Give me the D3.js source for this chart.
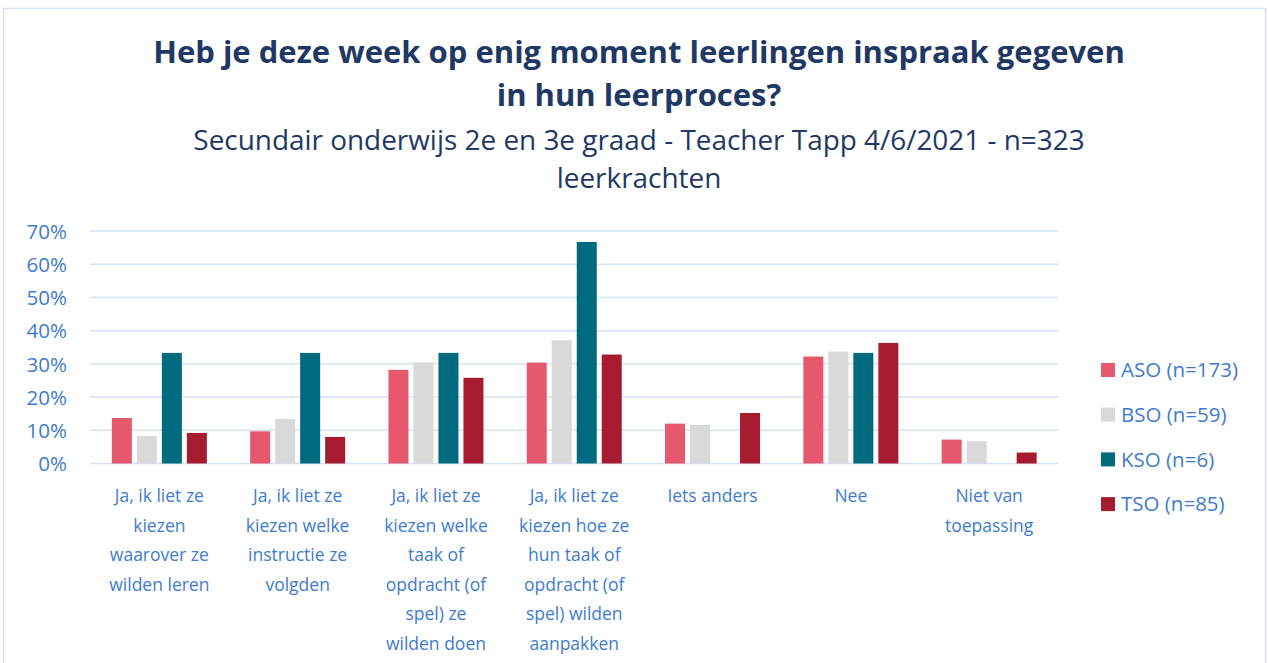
<!DOCTYPE html>
<html><head><meta charset="utf-8">
<script src="https://cdn.jsdelivr.net/npm/d3@7"></script>
<style>body{margin:0;background:#fff;font-family:"Open Sans",sans-serif}</style>
</head><body><svg id="c" width="1268" height="663"></svg>
<script>
const categories = [
  ["Ja, ik liet ze","kiezen","waarover ze","wilden leren"],
  ["Ja, ik liet ze","kiezen welke","instructie ze","volgden"],
  ["Ja, ik liet ze","kiezen welke","taak of","opdracht (of","spel) ze","wilden doen"],
  ["Ja, ik liet ze","kiezen hoe ze","hun taak of","opdracht (of","spel) wilden","aanpakken"],
  ["Iets anders"],
  ["Nee"],
  ["Niet van","toepassing"]
];
const seriesNames = ["ASO (n=173)","BSO (n=59)","KSO (n=6)","TSO (n=85)"];
const ASO = [13.7, 9.7, 28.2, 30.4, 12.0, 32.2, 7.2];
const BSO = [8.3, 13.4, 30.4, 37.1, 11.6, 33.7, 6.7];
const KSO = [33.3, 33.3, 33.3, 66.7, 0, 33.3, 0];
const TSO = [9.2, 8.0, 25.8, 32.8, 15.2, 36.3, 3.3];
const yTicks = [0,10,20,30,40,50,60,70];
const colors = ["#E5586E","#D9D9D9","#006A7E","#A51C30"];
const titleLines = ["Heb je deze week op enig moment leerlingen inspraak gegeven","in hun leerproces?"];
const subtitleLines = ["Secundair onderwijs 2e en 3e graad - Teacher Tapp 4/6/2021 - n=323","leerkrachten"];

(function(){
const svg = d3.select("#c");
const series = [ASO,BSO,KSO,TSO];
const blue = "#3F7BD0";

svg.append("rect").attr("x",3.5).attr("y",8.5).attr("width",1262).attr("height",670)
  .attr("fill","none").attr("stroke","#D6E1F2").attr("stroke-width",1.5);

function fitText(sel, target){
  const w = sel.node().getComputedTextLength();
  const fs = parseFloat(sel.attr("font-size"));
  sel.attr("font-size", fs*target/w);
}
const cx = 639;
const t1 = svg.append("text").attr("x",cx).attr("y",63).attr("text-anchor","middle")
  .attr("font-size",30).attr("font-weight","bold").attr("fill","#1F3864").text(titleLines[0]);
fitText(t1, 972);
svg.append("text").attr("x",cx).attr("y",106).attr("text-anchor","middle")
  .attr("font-size",t1.attr("font-size")).attr("font-weight","bold").attr("fill","#1F3864").text(titleLines[1]);
const s1 = svg.append("text").attr("x",cx).attr("y",150).attr("text-anchor","middle")
  .attr("font-size",24).attr("fill","#1F3864").text(subtitleLines[0]);
fitText(s1, 892);
svg.append("text").attr("x",cx).attr("y",188).attr("text-anchor","middle")
  .attr("font-size",s1.attr("font-size")).attr("fill","#1F3864").text(subtitleLines[1]);

const pl = 90, pr = 1058.5, pt = 231, pb = 463.5;
const y = d3.scaleLinear().domain([0,70]).range([pb, pt]);
const x0 = d3.scaleBand().domain(d3.range(categories.length)).range([pl,pr]).paddingInner(0.313).paddingOuter(0.158);
const x1 = d3.scaleBand().domain(d3.range(series.length)).range([0,x0.bandwidth()]).paddingInner(0.2).paddingOuter(0);

svg.append("g").selectAll("line").data(yTicks).join("line")
  .attr("x1",pl).attr("x2",pr).attr("y1",d=>y(d)).attr("y2",d=>y(d))
  .attr("stroke","#D6E1F2").attr("stroke-width",1.5);

const yAxis = svg.append("g").attr("transform",`translate(67,0)`)
  .call(d3.axisLeft(y).tickValues(yTicks).tickFormat(d=>d+"%").tickSize(0).tickPadding(0));
yAxis.select(".domain").remove();
yAxis.selectAll("text").attr("font-size",20.5).attr("fill",blue).attr("font-family","Open Sans, sans-serif").attr("dy","0.35em");

const g = svg.append("g");
categories.forEach((c,i)=>{
  series.forEach((s,j)=>{
    if (s[i] <= 0) return;
    g.append("rect").attr("x",x0(i)+x1(j)).attr("width",x1.bandwidth())
      .attr("y",y(s[i])).attr("height",y(0)-y(s[i])).attr("fill",colors[j]);
  });
});

const xl = svg.append("g");
categories.forEach((lines,i)=>{
  const t = xl.append("text").attr("text-anchor","middle").attr("font-size",17.5).attr("fill",blue);
  lines.forEach((l,k)=>{
    t.append("tspan").attr("x",x0(i)+x0.bandwidth()/2).attr("y",502+k*29.5).text(l);
  });
});

const leg = svg.append("g");
seriesNames.forEach((n,j)=>{
  const yy = 370 + j*44.7;
  leg.append("rect").attr("x",1101).attr("y",yy-7).attr("width",14).attr("height",14).attr("fill",colors[j]);
  leg.append("text").attr("x",1121).attr("y",yy).attr("dy","0.35em").attr("font-size",20.5).attr("fill",blue).text(n);
});
})();
</script></body></html>
